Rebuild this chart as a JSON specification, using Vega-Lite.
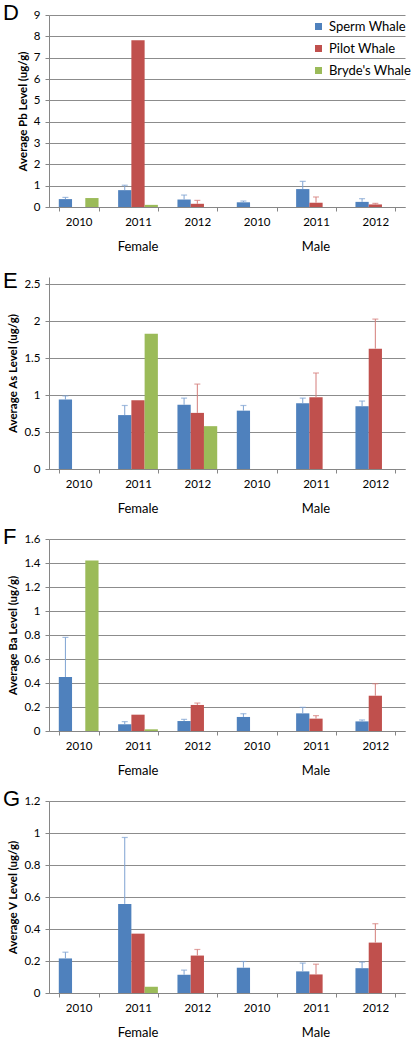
{
  "$schema": "https://vega.github.io/schema/vega-lite/v6.json",
  "padding": {"left": 3, "top": 2, "right": 5, "bottom": 5},
  "bounds": "flush",
  "spacing": 70,
  "config": {
    "font": "Lato",
    "view": {"stroke": null},
    "axis": {"labelFont": "Lato", "labelColor": "#000000", "labelFontSize": 11.5, "domainColor": "#868686", "tickColor": "#868686", "gridColor": "#8c8c8c", "titleColor": "#000000", "titleFont": "Lato"},
    "axisY": {"grid": true, "tickSize": 4, "labelPadding": 5, "titlePadding": 5, "titleFontSize": 11.5, "titleFontWeight": "bold", "domain": true, "labelOverlap": false},
    "axisX": {"grid": false},
    "legend": {"title": null, "orient": "none", "symbolType": "square", "symbolSize": 49, "symbolStrokeWidth": 0, "labelFontSize": 13, "labelFont": "Lato", "labelColor": "#000000", "padding": 0, "labelOffset": 4},
    "title": {"font": "Liberation Sans", "fontSize": 22, "fontWeight": "normal", "anchor": "start", "frame": "group", "orient": "top", "offset": 0, "baseline": "alphabetic", "color": "#000000"}
  },
  "datasets": {
    "whales": [
      {"metal": "Pb", "cat": "Female 2010", "species": "Sperm Whale", "value": 0.37, "upper": 0.45},
      {"metal": "Pb", "cat": "Female 2010", "species": "Bryde's Whale", "value": 0.42},
      {"metal": "Pb", "cat": "Female 2011", "species": "Sperm Whale", "value": 0.79, "upper": 1.02},
      {"metal": "Pb", "cat": "Female 2011", "species": "Pilot Whale", "value": 7.82},
      {"metal": "Pb", "cat": "Female 2011", "species": "Bryde's Whale", "value": 0.1},
      {"metal": "Pb", "cat": "Female 2012", "species": "Sperm Whale", "value": 0.35, "upper": 0.56},
      {"metal": "Pb", "cat": "Female 2012", "species": "Pilot Whale", "value": 0.15, "upper": 0.31},
      {"metal": "Pb", "cat": "Male 2010", "species": "Sperm Whale", "value": 0.22, "upper": 0.28},
      {"metal": "Pb", "cat": "Male 2011", "species": "Sperm Whale", "value": 0.84, "upper": 1.2},
      {"metal": "Pb", "cat": "Male 2011", "species": "Pilot Whale", "value": 0.2, "upper": 0.47},
      {"metal": "Pb", "cat": "Male 2012", "species": "Sperm Whale", "value": 0.24, "upper": 0.39},
      {"metal": "Pb", "cat": "Male 2012", "species": "Pilot Whale", "value": 0.12, "upper": 0.17},

      {"metal": "As", "cat": "Female 2010", "species": "Sperm Whale", "value": 0.94, "upper": 0.99},
      {"metal": "As", "cat": "Female 2011", "species": "Sperm Whale", "value": 0.73, "upper": 0.86},
      {"metal": "As", "cat": "Female 2011", "species": "Pilot Whale", "value": 0.93},
      {"metal": "As", "cat": "Female 2011", "species": "Bryde's Whale", "value": 1.83},
      {"metal": "As", "cat": "Female 2012", "species": "Sperm Whale", "value": 0.87, "upper": 0.96},
      {"metal": "As", "cat": "Female 2012", "species": "Pilot Whale", "value": 0.76, "upper": 1.15},
      {"metal": "As", "cat": "Female 2012", "species": "Bryde's Whale", "value": 0.58},
      {"metal": "As", "cat": "Male 2010", "species": "Sperm Whale", "value": 0.79, "upper": 0.86},
      {"metal": "As", "cat": "Male 2011", "species": "Sperm Whale", "value": 0.89, "upper": 0.96},
      {"metal": "As", "cat": "Male 2011", "species": "Pilot Whale", "value": 0.97, "upper": 1.3},
      {"metal": "As", "cat": "Male 2012", "species": "Sperm Whale", "value": 0.85, "upper": 0.92},
      {"metal": "As", "cat": "Male 2012", "species": "Pilot Whale", "value": 1.63, "upper": 2.03},

      {"metal": "Ba", "cat": "Female 2010", "species": "Sperm Whale", "value": 0.45, "upper": 0.78},
      {"metal": "Ba", "cat": "Female 2010", "species": "Bryde's Whale", "value": 1.42},
      {"metal": "Ba", "cat": "Female 2011", "species": "Sperm Whale", "value": 0.056, "upper": 0.078},
      {"metal": "Ba", "cat": "Female 2011", "species": "Pilot Whale", "value": 0.136},
      {"metal": "Ba", "cat": "Female 2011", "species": "Bryde's Whale", "value": 0.014},
      {"metal": "Ba", "cat": "Female 2012", "species": "Sperm Whale", "value": 0.083, "upper": 0.097},
      {"metal": "Ba", "cat": "Female 2012", "species": "Pilot Whale", "value": 0.217, "upper": 0.233},
      {"metal": "Ba", "cat": "Male 2010", "species": "Sperm Whale", "value": 0.117, "upper": 0.144},
      {"metal": "Ba", "cat": "Male 2011", "species": "Sperm Whale", "value": 0.147, "upper": 0.197},
      {"metal": "Ba", "cat": "Male 2011", "species": "Pilot Whale", "value": 0.103, "upper": 0.128},
      {"metal": "Ba", "cat": "Male 2012", "species": "Sperm Whale", "value": 0.08, "upper": 0.092},
      {"metal": "Ba", "cat": "Male 2012", "species": "Pilot Whale", "value": 0.294, "upper": 0.394},

      {"metal": "V", "cat": "Female 2010", "species": "Sperm Whale", "value": 0.216, "upper": 0.255},
      {"metal": "V", "cat": "Female 2011", "species": "Sperm Whale", "value": 0.557, "upper": 0.972},
      {"metal": "V", "cat": "Female 2011", "species": "Pilot Whale", "value": 0.371},
      {"metal": "V", "cat": "Female 2011", "species": "Bryde's Whale", "value": 0.039},
      {"metal": "V", "cat": "Female 2012", "species": "Sperm Whale", "value": 0.114, "upper": 0.143},
      {"metal": "V", "cat": "Female 2012", "species": "Pilot Whale", "value": 0.234, "upper": 0.272},
      {"metal": "V", "cat": "Male 2010", "species": "Sperm Whale", "value": 0.158, "upper": 0.197},
      {"metal": "V", "cat": "Male 2011", "species": "Sperm Whale", "value": 0.135, "upper": 0.187},
      {"metal": "V", "cat": "Male 2011", "species": "Pilot Whale", "value": 0.116, "upper": 0.18},
      {"metal": "V", "cat": "Male 2012", "species": "Sperm Whale", "value": 0.155, "upper": 0.193},
      {"metal": "V", "cat": "Male 2012", "species": "Pilot Whale", "value": 0.315, "upper": 0.433}
    ],
    "sexes": [{"sex": "Female"}, {"sex": "Male"}]
  },
  "vconcat": [
    {
      "width": 356, "height": 192,
      "title": {"text": "D", "dx": -46, "dy": 20},
      "layer": [
        {
          "data": {"name": "whales"},
          "transform": [{"filter": "datum.metal === 'Pb'"}],
          "encoding": {
            "x": {"field": "cat", "type": "nominal", "title": null, "scale": {"domain": ["Female 2010", "Female 2011", "Female 2012", "Male 2010", "Male 2011", "Male 2012"], "paddingInner": 0.33, "paddingOuter": 0.165}, "axis": {"labelExpr": "split(datum.value, ' ')[1]", "labelAngle": 0, "tickBand": "extent", "tickSize": 4, "labelPadding": 5}},
            "xOffset": {"field": "species", "type": "nominal", "scale": {"domain": ["Sperm Whale", "Pilot Whale", "Bryde's Whale"], "paddingInner": 0, "paddingOuter": 0}}
          },
          "layer": [
            {
              "mark": {"type": "bar"},
              "encoding": {
                "y": {"field": "value", "type": "quantitative", "scale": {"domain": [0, 9]}, "axis": {"values": [0, 1, 2, 3, 4, 5, 6, 7, 8, 9], "title": "Average Pb Level (ug/g)"}},
                "color": {"field": "species", "type": "nominal", "scale": {"domain": ["Sperm Whale", "Pilot Whale", "Bryde's Whale"], "range": ["#4f81bd", "#c0504d", "#9bbb59"]}, "legend": {"legendX": 263, "legendY": 5, "rowPadding": 8}}
              }
            },
            {
              "transform": [{"filter": "isValid(datum.upper)"}],
              "mark": {"type": "rule", "strokeWidth": 1},
              "encoding": {
                "y": {"field": "value", "type": "quantitative", "axis": {"values": [0, 1, 2, 3, 4, 5, 6, 7, 8, 9], "title": "Average Pb Level (ug/g)"}},
                "y2": {"field": "upper"},
                "stroke": {"field": "species", "type": "nominal", "scale": {"domain": ["Sperm Whale", "Pilot Whale", "Bryde's Whale"], "range": ["#7fa3d2", "#d47d7a", "#b5cf85"]}, "legend": null}
              }
            },
            {
              "transform": [{"filter": "isValid(datum.upper)"}],
              "mark": {"type": "tick", "thickness": 1.2, "size": 6},
              "encoding": {
                "y": {"field": "upper", "type": "quantitative", "axis": {"values": [0, 1, 2, 3, 4, 5, 6, 7, 8, 9], "title": "Average Pb Level (ug/g)"}},
                "fill": {"field": "species", "type": "nominal", "scale": {"domain": ["Sperm Whale", "Pilot Whale", "Bryde's Whale"], "range": ["#7fa3d2", "#d47d7a", "#b5cf85"]}, "legend": null}
              }
            }
          ]
        },
        {
          "data": {"name": "sexes"},
          "mark": {"type": "rule", "opacity": 0},
          "encoding": {
            "x": {"field": "sex", "type": "nominal", "title": null, "axis": {"orient": "bottom", "offset": 33, "domain": false, "ticks": false, "labelPadding": 0, "labelFontSize": 13, "labelAngle": 0}}
          }
        }
      ],
      "resolve": {"scale": {"x": "independent"}, "axis": {"x": "independent"}}
    },
    {
      "width": 356, "height": 192,
      "title": {"text": "E", "dx": -46, "dy": 20},
      "layer": [
        {
          "data": {"name": "whales"},
          "transform": [{"filter": "datum.metal === 'As'"}],
          "encoding": {
            "x": {"field": "cat", "type": "nominal", "title": null, "scale": {"domain": ["Female 2010", "Female 2011", "Female 2012", "Male 2010", "Male 2011", "Male 2012"], "paddingInner": 0.33, "paddingOuter": 0.165}, "axis": {"labelExpr": "split(datum.value, ' ')[1]", "labelAngle": 0, "tickBand": "extent", "tickSize": 4, "labelPadding": 5}},
            "xOffset": {"field": "species", "type": "nominal", "scale": {"domain": ["Sperm Whale", "Pilot Whale", "Bryde's Whale"], "paddingInner": 0, "paddingOuter": 0}}
          },
          "layer": [
            {
              "mark": {"type": "bar"},
              "encoding": {
                "y": {"field": "value", "type": "quantitative", "scale": {"domain": [0, 2.5]}, "axis": {"values": [0, 0.5, 1, 1.5, 2, 2.5], "format": "~g", "title": "Average As Level (ug/g)"}},
                "color": {"field": "species", "type": "nominal", "scale": {"domain": ["Sperm Whale", "Pilot Whale", "Bryde's Whale"], "range": ["#4f81bd", "#c0504d", "#9bbb59"]}, "legend": {"legendX": 224, "legendY": 3, "rowPadding": 9}}
              }
            },
            {
              "transform": [{"filter": "isValid(datum.upper)"}],
              "mark": {"type": "rule", "strokeWidth": 1},
              "encoding": {
                "y": {"field": "value", "type": "quantitative", "axis": {"values": [0, 0.5, 1, 1.5, 2, 2.5], "format": "~g", "title": "Average As Level (ug/g)"}},
                "y2": {"field": "upper"},
                "stroke": {"field": "species", "type": "nominal", "scale": {"domain": ["Sperm Whale", "Pilot Whale", "Bryde's Whale"], "range": ["#7fa3d2", "#d47d7a", "#b5cf85"]}, "legend": null}
              }
            },
            {
              "transform": [{"filter": "isValid(datum.upper)"}],
              "mark": {"type": "tick", "thickness": 1.2, "size": 6},
              "encoding": {
                "y": {"field": "upper", "type": "quantitative", "axis": {"values": [0, 0.5, 1, 1.5, 2, 2.5], "format": "~g", "title": "Average As Level (ug/g)"}},
                "fill": {"field": "species", "type": "nominal", "scale": {"domain": ["Sperm Whale", "Pilot Whale", "Bryde's Whale"], "range": ["#7fa3d2", "#d47d7a", "#b5cf85"]}, "legend": null}
              }
            }
          ]
        },
        {
          "data": {"name": "sexes"},
          "mark": {"type": "rule", "opacity": 0},
          "encoding": {
            "x": {"field": "sex", "type": "nominal", "title": null, "axis": {"orient": "bottom", "offset": 33, "domain": false, "ticks": false, "labelPadding": 0, "labelFontSize": 13, "labelAngle": 0}}
          }
        }
      ],
      "resolve": {"scale": {"x": "independent"}, "axis": {"x": "independent"}}
    },
    {
      "width": 356, "height": 192,
      "title": {"text": "F", "dx": -46, "dy": 20},
      "layer": [
        {
          "data": {"name": "whales"},
          "transform": [{"filter": "datum.metal === 'Ba'"}],
          "encoding": {
            "x": {"field": "cat", "type": "nominal", "title": null, "scale": {"domain": ["Female 2010", "Female 2011", "Female 2012", "Male 2010", "Male 2011", "Male 2012"], "paddingInner": 0.33, "paddingOuter": 0.165}, "axis": {"labelExpr": "split(datum.value, ' ')[1]", "labelAngle": 0, "tickBand": "extent", "tickSize": 4, "labelPadding": 5}},
            "xOffset": {"field": "species", "type": "nominal", "scale": {"domain": ["Sperm Whale", "Pilot Whale", "Bryde's Whale"], "paddingInner": 0, "paddingOuter": 0}}
          },
          "layer": [
            {
              "mark": {"type": "bar"},
              "encoding": {
                "y": {"field": "value", "type": "quantitative", "scale": {"domain": [0, 1.6]}, "axis": {"values": [0, 0.2, 0.4, 0.6, 0.8, 1, 1.2, 1.4, 1.6], "format": "~g", "title": "Average Ba Level (ug/g)"}},
                "color": {"field": "species", "type": "nominal", "scale": {"domain": ["Sperm Whale", "Pilot Whale", "Bryde's Whale"], "range": ["#4f81bd", "#c0504d", "#9bbb59"]}, "legend": {"legendX": 277, "legendY": 12, "rowPadding": 7.5}}
              }
            },
            {
              "transform": [{"filter": "isValid(datum.upper)"}],
              "mark": {"type": "rule", "strokeWidth": 1},
              "encoding": {
                "y": {"field": "value", "type": "quantitative", "axis": {"values": [0, 0.2, 0.4, 0.6, 0.8, 1, 1.2, 1.4, 1.6], "format": "~g", "title": "Average Ba Level (ug/g)"}},
                "y2": {"field": "upper"},
                "stroke": {"field": "species", "type": "nominal", "scale": {"domain": ["Sperm Whale", "Pilot Whale", "Bryde's Whale"], "range": ["#7fa3d2", "#d47d7a", "#b5cf85"]}, "legend": null}
              }
            },
            {
              "transform": [{"filter": "isValid(datum.upper)"}],
              "mark": {"type": "tick", "thickness": 1.2, "size": 6},
              "encoding": {
                "y": {"field": "upper", "type": "quantitative", "axis": {"values": [0, 0.2, 0.4, 0.6, 0.8, 1, 1.2, 1.4, 1.6], "format": "~g", "title": "Average Ba Level (ug/g)"}},
                "fill": {"field": "species", "type": "nominal", "scale": {"domain": ["Sperm Whale", "Pilot Whale", "Bryde's Whale"], "range": ["#7fa3d2", "#d47d7a", "#b5cf85"]}, "legend": null}
              }
            }
          ]
        },
        {
          "data": {"name": "sexes"},
          "mark": {"type": "rule", "opacity": 0},
          "encoding": {
            "x": {"field": "sex", "type": "nominal", "title": null, "axis": {"orient": "bottom", "offset": 33, "domain": false, "ticks": false, "labelPadding": 0, "labelFontSize": 13, "labelAngle": 0}}
          }
        }
      ],
      "resolve": {"scale": {"x": "independent"}, "axis": {"x": "independent"}}
    },
    {
      "width": 356, "height": 192,
      "title": {"text": "G", "dx": -46, "dy": 20},
      "layer": [
        {
          "data": {"name": "whales"},
          "transform": [{"filter": "datum.metal === 'V'"}],
          "encoding": {
            "x": {"field": "cat", "type": "nominal", "title": null, "scale": {"domain": ["Female 2010", "Female 2011", "Female 2012", "Male 2010", "Male 2011", "Male 2012"], "paddingInner": 0.33, "paddingOuter": 0.165}, "axis": {"labelExpr": "split(datum.value, ' ')[1]", "labelAngle": 0, "tickBand": "extent", "tickSize": 4, "labelPadding": 5}},
            "xOffset": {"field": "species", "type": "nominal", "scale": {"domain": ["Sperm Whale", "Pilot Whale", "Bryde's Whale"], "paddingInner": 0, "paddingOuter": 0}}
          },
          "layer": [
            {
              "mark": {"type": "bar"},
              "encoding": {
                "y": {"field": "value", "type": "quantitative", "scale": {"domain": [0, 1.2]}, "axis": {"values": [0, 0.2, 0.4, 0.6, 0.8, 1, 1.2], "format": "~g", "title": "Average V Level (ug/g)"}},
                "color": {"field": "species", "type": "nominal", "scale": {"domain": ["Sperm Whale", "Pilot Whale", "Bryde's Whale"], "range": ["#4f81bd", "#c0504d", "#9bbb59"]}, "legend": {"legendX": 275, "legendY": 5, "rowPadding": 8}}
              }
            },
            {
              "transform": [{"filter": "isValid(datum.upper)"}],
              "mark": {"type": "rule", "strokeWidth": 1},
              "encoding": {
                "y": {"field": "value", "type": "quantitative", "axis": {"values": [0, 0.2, 0.4, 0.6, 0.8, 1, 1.2], "format": "~g", "title": "Average V Level (ug/g)"}},
                "y2": {"field": "upper"},
                "stroke": {"field": "species", "type": "nominal", "scale": {"domain": ["Sperm Whale", "Pilot Whale", "Bryde's Whale"], "range": ["#7fa3d2", "#d47d7a", "#b5cf85"]}, "legend": null}
              }
            },
            {
              "transform": [{"filter": "isValid(datum.upper)"}],
              "mark": {"type": "tick", "thickness": 1.2, "size": 6},
              "encoding": {
                "y": {"field": "upper", "type": "quantitative", "axis": {"values": [0, 0.2, 0.4, 0.6, 0.8, 1, 1.2], "format": "~g", "title": "Average V Level (ug/g)"}},
                "fill": {"field": "species", "type": "nominal", "scale": {"domain": ["Sperm Whale", "Pilot Whale", "Bryde's Whale"], "range": ["#7fa3d2", "#d47d7a", "#b5cf85"]}, "legend": null}
              }
            }
          ]
        },
        {
          "data": {"name": "sexes"},
          "mark": {"type": "rule", "opacity": 0},
          "encoding": {
            "x": {"field": "sex", "type": "nominal", "title": null, "axis": {"orient": "bottom", "offset": 33, "domain": false, "ticks": false, "labelPadding": 0, "labelFontSize": 13, "labelAngle": 0}}
          }
        }
      ],
      "resolve": {"scale": {"x": "independent"}, "axis": {"x": "independent"}}
    }
  ]
}
